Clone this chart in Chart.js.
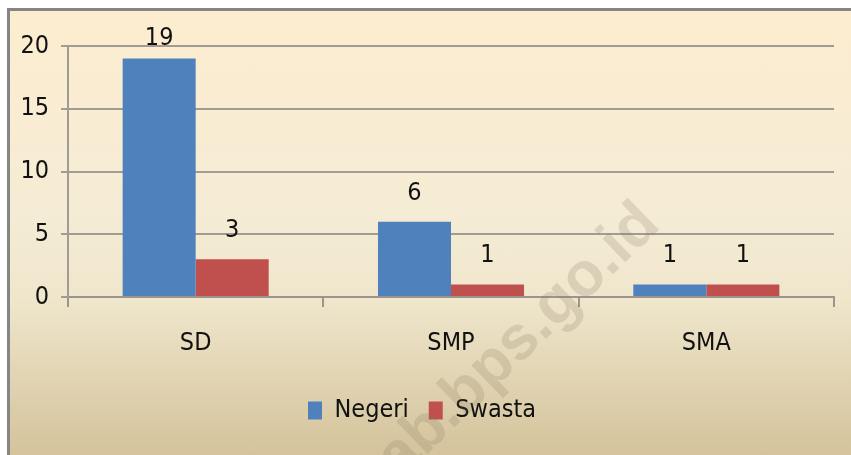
<!DOCTYPE html>
<html>
<head>
<meta charset="utf-8">
<script src="https://cdn.jsdelivr.net/npm/chart.js@4/dist/chart.umd.min.js"></script>
<style>
  html, body { margin: 0; padding: 0; background: #fff; overflow: hidden; }
  #frame {
    position: absolute; left: 7px; top: 8px;
    width: 841px; height: 444px;
    border-top: 3px solid #858585; border-left: 3px solid #858585;
    background: linear-gradient(to bottom, #fdedd0 0%, #f5ecd5 45%, #efe6cc 65%, #d4c39b 100%);
  }
  #wrap { position: absolute; left: 0; top: 0; width: 841px; height: 444px; }
</style>
</head>
<body>
<div id="frame"><div id="wrap"><canvas id="chart"></canvas></div></div>
<script>
// data
const categories = ['SD', 'SMP', 'SMA'];
const negeri = [19, 6, 1];
const swasta = [3, 1, 1];
const yTicks = [0, 5, 10, 15, 20];

const FONT = "'Liberation Sans Narrow', 'DejaVu Sans Condensed', 'Open Sans', sans-serif";

// value labels over the bars
const valueLabels = {
  id: 'valueLabels',
  afterDatasetsDraw(chart) {
    const ctx = chart.ctx;
    const top = chart.chartArea.top;
    ctx.save();
    ctx.font = '25px ' + FONT;
    ctx.fillStyle = '#111';
    ctx.textAlign = 'center';
    ctx.textBaseline = 'alphabetic';
    chart.data.datasets.forEach((ds, i) => {
      chart.getDatasetMeta(i).data.forEach((bar, j) => {
        const y = Math.max(bar.y - 22, top - 1);
        ctx.fillText(String(ds.data[j]), bar.x, y);
      });
    });
    ctx.restore();
  }
};

// faint watermark
const watermark = {
  id: 'watermark',
  afterDraw(chart) {
    const ctx = chart.ctx;
    ctx.save();
    ctx.translate(652, 216);
    ctx.rotate(-44 * Math.PI / 180);
    ctx.font = 'bold 62px "Liberation Sans", Arial, sans-serif';
    ctx.fillStyle = 'rgba(130, 115, 90, 0.2)';
    ctx.textAlign = 'right';
    ctx.textBaseline = 'alphabetic';
    ctx.fillText('kab.bps.go.id', 0, 0);
    ctx.restore();
  }
};

new Chart(document.getElementById('chart'), {
  type: 'bar',
  data: {
    labels: categories,
    datasets: [
      { label: 'Negeri', data: negeri, backgroundColor: '#4f81bd' },
      { label: 'Swasta', data: swasta, backgroundColor: '#c0504d' }
    ]
  },
  options: {
    responsive: true,
    maintainAspectRatio: false,
    animation: false,
    categoryPercentage: 0.572,
    barPercentage: 1,
    layout: { padding: { top: 35, right: 17, left: 0, bottom: 22 } },
    scales: {
      x: {
        grid: { offset: true, drawOnChartArea: false, color: '#9a968e', lineWidth: 2, tickLength: 10 },
        border: { color: '#9a968e', width: 2 },
        ticks: { font: { family: FONT, size: 25 }, color: '#111', padding: 21 },
        afterFit(scale) { scale.height = 81; }
      },
      y: {
        min: 0, max: 20,
        afterBuildTicks(scale) { scale.ticks = yTicks.map(v => ({ value: v })); },
        grid: { color: '#a09c94', lineWidth: 2, tickLength: 7 },
        border: { color: '#a09c94', width: 2 },
        ticks: { font: { family: FONT, size: 25 }, color: '#111', padding: 12 },
        afterFit(scale) { scale.width = 58; }
      }
    },
    plugins: {
      legend: {
        position: 'bottom',
        labels: {
          font: { family: FONT, size: 25 },
          color: '#111',
          boxWidth: 14,
          boxHeight: 18,
          padding: 20
        }
      },
      tooltip: { enabled: false }
    }
  },
  plugins: [valueLabels, watermark]
});
</script>
</body>
</html>
